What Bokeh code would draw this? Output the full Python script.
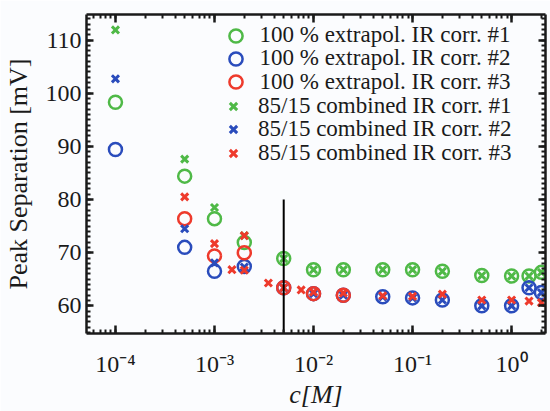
from bokeh.plotting import figure
from bokeh.models import (LogAxis, LinearAxis, LogTicker, SingleIntervalTicker,
                          CustomJSTickFormatter, Range1d, Legend, LegendItem)
from bokeh.embed import file_html
from bokeh.resources import INLINE

# ---- data ----
c_ext = [1e-4, 5e-4, 1e-3, 2e-3, 5e-3, 1e-2, 2e-2, 5e-2, 1e-1, 2e-1, 5e-1, 1.0, 1.5, 2.0]
ext1 = [98.3, 84.4, 76.4, 71.9, 68.9, 66.8, 66.8, 66.8, 66.8, 66.5, 65.7, 65.6, 65.6, 66.3]
ext2 = [89.4, 71.0, 66.5, 67.4, 63.4, 62.3, 62.0, 61.7, 61.5, 61.1, 60.0, 60.0, 63.4, 62.5]
c_ext3 = [5e-4, 1e-3, 2e-3, 5e-3, 1e-2, 2e-2]
ext3 = [76.4, 69.4, 70.0, 63.4, 62.3, 62.0]
comb1 = [111.9, 87.6, 78.5, 73.2, 68.9, 66.8, 66.8, 66.8, 66.8, 66.5, 65.7, 65.6, 65.6, 66.3]
comb2 = [102.7, 74.5, 68.1, 67.3, 63.4, 62.3, 62.0, 61.7, 61.5, 61.1, 60.0, 60.0, 63.4, 62.5]
c_comb3 = [5e-4, 1e-3, 1.5e-3, 2e-3, 2e-3, 3.5e-3, 5e-3, 7.5e-3, 1e-2, 2e-2, 5e-2, 1e-1,
           2e-1, 5e-1, 1.0, 1.5, 2.0]
comb3 = [80.5, 71.7, 66.8, 73.2, 66.7, 64.3, 63.4, 63.0, 62.6, 62.4, 61.9, 61.8, 62.2,
         61.1, 61.1, 60.9, 60.6]
labels = ["100 % extrapol. IR corr. #1", "100 % extrapol. IR corr. #2",
          "100 % extrapol. IR corr. #3", "85/15 combined IR corr. #1",
          "85/15 combined IR corr. #2", "85/15 combined IR corr. #3"]
marker_c = [0.005]
marker_top = [80.0]

GREEN = "#4fb947"
BLUE = "#2a4cbc"
RED = "#ee3a2c"
BG = "#fbfcfe"
INK = "#1a1a1a"
FONT = "'Liberation Serif', serif"

y0, y1 = 54.8, 114.8
p = figure(width=550, height=411, x_axis_type="log", output_backend="svg",
           toolbar_location=None, x_range=Range1d(5.1e-5, 2.2), y_range=Range1d(y0, y1),
           min_border_left=86, min_border_right=5, min_border_top=14, min_border_bottom=73,
           background_fill_color=BG, border_fill_color=BG)
p.grid.visible = False
p.outline_line_color = None

# ---- data marks ----
rs = [
    p.scatter(c_ext, ext1, marker="circle", size=13, fill_color=None, line_color=GREEN,
              line_width=2.5),
    p.scatter(c_ext, ext2, marker="circle", size=13, fill_color=None, line_color=BLUE,
              line_width=2.5),
    p.scatter(c_ext3, ext3, marker="circle", size=13, fill_color=None, line_color=RED,
              line_width=2.5),
    p.scatter(c_ext, comb1, marker="x", size=10, line_color=GREEN, line_width=3),
    p.scatter(c_ext, comb2, marker="x", size=10, line_color=BLUE, line_width=3),
    p.scatter(c_comb3, comb3, marker="x", size=10, line_color=RED, line_width=3),
]

p.segment(x0=marker_c, y0=[y0], x1=marker_c, y1=marker_top, line_color="black", line_width=2)

# ---- axes ----
sup_code = """
const sup = {'-':'\u207b','0':'\u2070','1':'\u00b9','2':'\u00b2','3':'\u00b3','4':'\u2074',
             '5':'\u2075','6':'\u2076','7':'\u2077','8':'\u2078','9':'\u2079'};
const e = Math.round(Math.log10(tick));
return '10' + String(e).split('').map(c => sup[c]).join('');
"""
blank = CustomJSTickFormatter(code="return ''")

def style(ax, major_in, minor_in):
    ax.axis_line_width = 2.5
    ax.axis_line_color = INK
    ax.major_tick_in = major_in
    ax.major_tick_out = 0
    ax.minor_tick_in = minor_in
    ax.minor_tick_out = 0
    ax.major_tick_line_width = 2.5
    ax.minor_tick_line_width = 2
    ax.major_tick_line_color = INK
    ax.minor_tick_line_color = INK
    ax.major_label_text_font = FONT
    ax.major_label_text_font_size = "24px"
    ax.major_label_text_color = INK
    ax.axis_label_text_font = FONT
    ax.axis_label_text_font_size = "26px"
    ax.axis_label_text_color = INK
    ax.axis_label_text_font_style = "normal"

xb = p.xaxis[0]
xb.ticker = LogTicker(num_minor_ticks=10)
xb.formatter = CustomJSTickFormatter(code=sup_code)
style(xb, 8, 4)
xb.major_label_standoff = 17
xb.axis_label = "c[M]"
xb.axis_label_text_font_style = "italic"
xb.axis_label_standoff = 0

yl = p.yaxis[0]
yl.ticker = SingleIntervalTicker(interval=10, num_minor_ticks=10)
style(yl, 7, 4)
yl.major_label_standoff = 5
yl.axis_label = "Peak Separation [mV]"
yl.axis_label_standoff = 10

xt = LogAxis(ticker=LogTicker(num_minor_ticks=10), formatter=blank)
style(xt, 8, 4)
xt.major_label_standoff = 0
p.add_layout(xt, "above")

yr = LinearAxis(ticker=SingleIntervalTicker(interval=10, num_minor_ticks=10), formatter=blank)
style(yr, 7, 4)
yr.major_label_standoff = 0
p.add_layout(yr, "right")

# ---- legend: one single-row legend per entry, stacked ----
row_pitch = 23.4
# circles need a larger glyph box so the legend symbol matches the plotted size
glyph_box = [33, 33, 33, 26, 26, 26]
box_x = [132.5, 132.5, 132.5, 134, 134, 134]
box_y = [281.5, 281.5, 281.5, 284.5, 284.5, 284.5]
standoff = [8, 8, 8, 12, 12, 12]
for i, (lab, r) in enumerate(zip(labels, rs)):
    lg = Legend(items=[LegendItem(label=lab, renderers=[r])],
                location=(box_x[i], box_y[i] - i * row_pitch))
    lg.background_fill_alpha = 0
    lg.border_line_color = None
    lg.label_text_font = FONT
    lg.label_text_font_size = "23px"
    lg.label_text_color = INK
    lg.glyph_width = glyph_box[i]
    lg.glyph_height = glyph_box[i]
    lg.label_height = 21
    lg.padding = 0
    lg.margin = 0
    lg.label_standoff = standoff[i]
    p.add_layout(lg)

open("out.html", "w").write(file_html(p, INLINE))
